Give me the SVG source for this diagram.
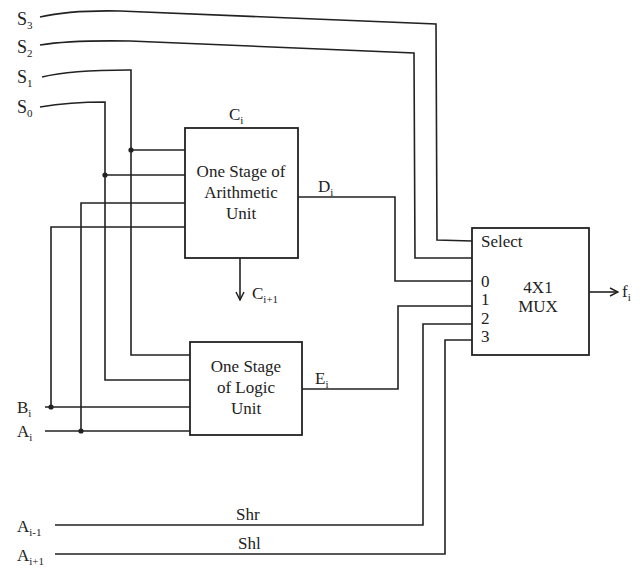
<svg xmlns="http://www.w3.org/2000/svg" width="644" height="572" viewBox="0 0 644 572">
<style>
.w{fill:none;stroke:#222;stroke-width:1.6}
.b{fill:#fff;stroke:#222;stroke-width:1.8}
text{font-family:"Liberation Serif","Times New Roman",serif;fill:#222}
.lbl{font-size:17px}
.big{font-size:18px}
.sub{font-size:11px}
.box{font-size:17px;text-anchor:middle}
</style>
<defs>
<marker id="ah" markerWidth="10" markerHeight="10" refX="9" refY="5" orient="auto" markerUnits="userSpaceOnUse">
<path d="M1,1 L9,5 L1,9" fill="none" stroke="#222" stroke-width="1.5"/>
</marker>
</defs>
<rect width="644" height="572" fill="#fff"/>
<g id="connectors">
<path class="w" d="M40,17 Q70,10 120,11 L436,24 L437,240 L472,241"/>
<path class="w" d="M40,45 Q70,40 130,41 L414,53 L415,258 L472,258"/>
<path class="w" d="M42,77 Q70,70 128,70 L131,70 L131,355 L190,355"/>
<path class="w" d="M40,107 Q70,102 105,102 L105,380 L190,380"/>
<path class="w" d="M131,150 L185,150"/>
<path class="w" d="M105,175 L185,175"/>
<path class="w" d="M185,203 L81,203 L81,431"/>
<path class="w" d="M185,227 L51,227 L51,407"/>
<path class="w" d="M45,407 L190,407"/>
<path class="w" d="M45,431 L190,431"/>
<path class="w" d="M298,197 L395,197 L395,281 L472,281"/>
<path class="w" d="M302,389 L398,389 L398,306 L472,306"/>
<path class="w" d="M55,525 L423,525 L423,324 L472,324"/>
<path class="w" d="M55,554 L445,554 L445,340 L472,340"/>
<path class="w" d="M240,258 L240,300" marker-end="url(#ah)"/>
<path class="w" d="M589,292 L618,292" marker-end="url(#ah)"/>
<circle cx="131" cy="150" r="2.6" fill="#222"/>
<circle cx="105" cy="175" r="2.6" fill="#222"/>
<circle cx="51" cy="407" r="2.6" fill="#222"/>
<circle cx="81" cy="431" r="2.6" fill="#222"/>
</g>
<g id="arith">
<rect class="b" x="185" y="128" width="113" height="130"/>
<text class="box" x="241" y="177">One Stage of</text>
<text class="box" x="241" y="198">Arithmetic</text>
<text class="box" x="241" y="219">Unit</text>
</g>
<g id="logic">
<rect class="b" x="190" y="342" width="112" height="93"/>
<text class="box" x="246" y="372">One Stage</text>
<text class="box" x="246" y="393">of Logic</text>
<text class="box" x="246" y="414">Unit</text>
</g>
<g id="mux">
<rect class="b" x="472" y="228" width="117" height="127"/>
<text class="lbl" x="481" y="247">Select</text>
<text class="lbl" x="481" y="287">0</text>
<text class="lbl" x="481" y="305">1</text>
<text class="lbl" x="481" y="324">2</text>
<text class="lbl" x="481" y="342">3</text>
<text class="box" x="538" y="293">4X1</text>
<text class="box" x="538" y="312">MUX</text>
</g>
<g id="labels">
<text class="big" x="17" y="25">S<tspan class="sub" dy="4">3</tspan></text>
<text class="big" x="17" y="53">S<tspan class="sub" dy="4">2</tspan></text>
<text class="big" x="17" y="83">S<tspan class="sub" dy="4">1</tspan></text>
<text class="big" x="17" y="113">S<tspan class="sub" dy="4">0</tspan></text>
<text class="lbl" x="229" y="120">C<tspan class="sub" dy="4">i</tspan></text>
<text class="lbl" x="318" y="192">D<tspan class="sub" dy="4">i</tspan></text>
<text class="lbl" x="252" y="299">C<tspan class="sub" dy="4">i+1</tspan></text>
<text class="lbl" x="315" y="384">E<tspan class="sub" dy="4">i</tspan></text>
<text class="lbl" x="17" y="413">B<tspan class="sub" dy="4">i</tspan></text>
<text class="lbl" x="17" y="437">A<tspan class="sub" dy="4">i</tspan></text>
<text class="lbl" x="17" y="532">A<tspan class="sub" dy="4">i-1</tspan></text>
<text class="lbl" x="17" y="561">A<tspan class="sub" dy="4">i+1</tspan></text>
<text class="lbl" x="236" y="520">Shr</text>
<text class="lbl" x="238" y="549">Shl</text>
<text class="lbl" x="622" y="297">f<tspan class="sub" dy="4">i</tspan></text>
</g>
</svg>
